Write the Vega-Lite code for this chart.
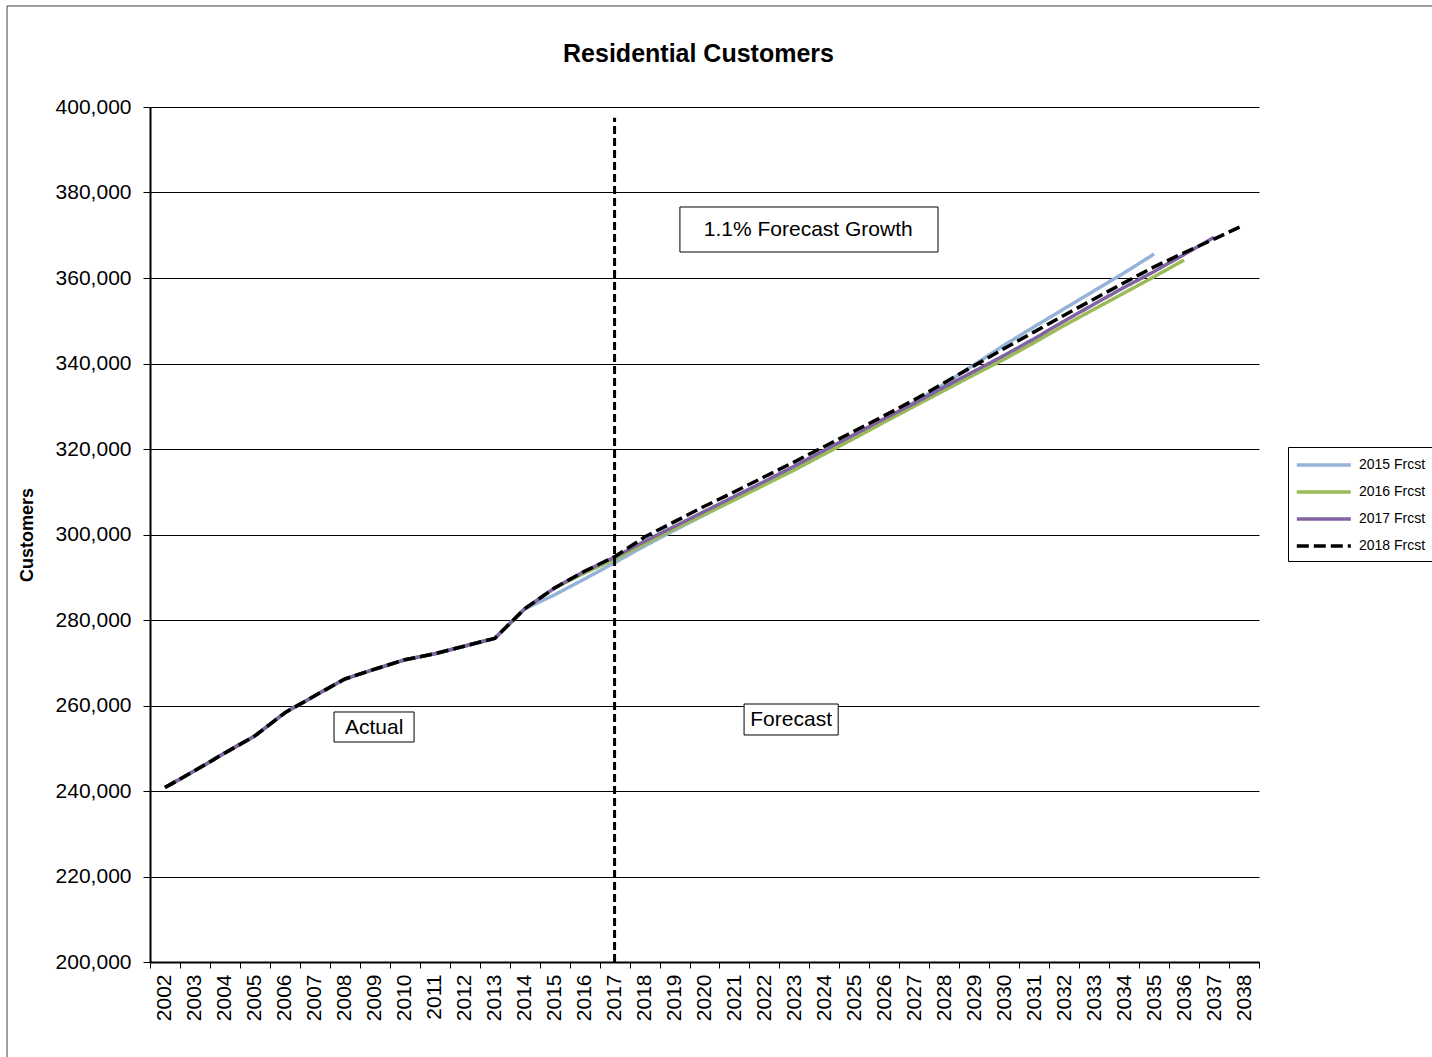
{
  "$schema": "https://vega.github.io/schema/vega-lite/v6.json",
  "width": 1109,
  "height": 855,
  "autosize": {"type": "none"},
  "padding": {"left": 150, "top": 107, "right": 173, "bottom": 95},
  "background": "white",
  "title": {
    "text": "Residential Customers",
    "font": "Liberation Sans",
    "fontSize": 25,
    "fontWeight": "bold",
    "color": "black",
    "anchor": "middle",
    "dx": -6,
    "offset": -62
  },
  "config": {
    "font": "Liberation Sans",
    "view": {"stroke": null},
    "axis": {
      "labelFont": "Liberation Sans",
      "titleFont": "Liberation Sans",
      "labelColor": "black",
      "titleColor": "black",
      "domainColor": "black",
      "tickColor": "black"
    }
  },
  "layer": [
    {
      "data": {
        "values": [
          {"year": 2002, "2015 Frcst": 240800, "2016 Frcst": 240800, "2017 Frcst": 240800, "2018 Frcst": 240800},
          {"year": 2003, "2015 Frcst": 244800, "2016 Frcst": 244800, "2017 Frcst": 244800, "2018 Frcst": 244800},
          {"year": 2004, "2015 Frcst": 248900, "2016 Frcst": 248900, "2017 Frcst": 248900, "2018 Frcst": 248900},
          {"year": 2005, "2015 Frcst": 252900, "2016 Frcst": 252900, "2017 Frcst": 252900, "2018 Frcst": 252900},
          {"year": 2006, "2015 Frcst": 258300, "2016 Frcst": 258300, "2017 Frcst": 258300, "2018 Frcst": 258300},
          {"year": 2007, "2015 Frcst": 262300, "2016 Frcst": 262300, "2017 Frcst": 262300, "2018 Frcst": 262300},
          {"year": 2008, "2015 Frcst": 266200, "2016 Frcst": 266200, "2017 Frcst": 266200, "2018 Frcst": 266200},
          {"year": 2009, "2015 Frcst": 268500, "2016 Frcst": 268500, "2017 Frcst": 268500, "2018 Frcst": 268500},
          {"year": 2010, "2015 Frcst": 270700, "2016 Frcst": 270700, "2017 Frcst": 270700, "2018 Frcst": 270700},
          {"year": 2011, "2015 Frcst": 272100, "2016 Frcst": 272100, "2017 Frcst": 272100, "2018 Frcst": 272100},
          {"year": 2012, "2015 Frcst": 273900, "2016 Frcst": 273900, "2017 Frcst": 273900, "2018 Frcst": 273900},
          {"year": 2013, "2015 Frcst": 275700, "2016 Frcst": 275700, "2017 Frcst": 275700, "2018 Frcst": 275700},
          {"year": 2014, "2015 Frcst": 282600, "2016 Frcst": 282600, "2017 Frcst": 282600, "2018 Frcst": 282600},
          {"year": 2015, "2015 Frcst": 285900, "2016 Frcst": 287500, "2017 Frcst": 287500, "2018 Frcst": 287500},
          {"year": 2016, "2015 Frcst": 289600, "2016 Frcst": 291000, "2017 Frcst": 291400, "2018 Frcst": 291400},
          {"year": 2017, "2015 Frcst": 293400, "2016 Frcst": 294200, "2017 Frcst": 294700, "2018 Frcst": 294800},
          {"year": 2018, "2015 Frcst": 297300, "2016 Frcst": 297800, "2017 Frcst": 298400, "2018 Frcst": 299400},
          {"year": 2019, "2015 Frcst": 301000, "2016 Frcst": 301300, "2017 Frcst": 301900, "2018 Frcst": 303000},
          {"year": 2020, "2015 Frcst": 304600, "2016 Frcst": 304700, "2017 Frcst": 305400, "2018 Frcst": 306600},
          {"year": 2021, "2015 Frcst": 308200, "2016 Frcst": 308100, "2017 Frcst": 308900, "2018 Frcst": 310000},
          {"year": 2022, "2015 Frcst": 311800, "2016 Frcst": 311600, "2017 Frcst": 312400, "2018 Frcst": 313500},
          {"year": 2023, "2015 Frcst": 315400, "2016 Frcst": 315100, "2017 Frcst": 316000, "2018 Frcst": 317000},
          {"year": 2024, "2015 Frcst": 319100, "2016 Frcst": 318800, "2017 Frcst": 319700, "2018 Frcst": 320600},
          {"year": 2025, "2015 Frcst": 322900, "2016 Frcst": 322500, "2017 Frcst": 323400, "2018 Frcst": 324200},
          {"year": 2026, "2015 Frcst": 326800, "2016 Frcst": 326300, "2017 Frcst": 327100, "2018 Frcst": 327800},
          {"year": 2027, "2015 Frcst": 330900, "2016 Frcst": 330000, "2017 Frcst": 330700, "2018 Frcst": 331500},
          {"year": 2028, "2015 Frcst": 335200, "2016 Frcst": 333700, "2017 Frcst": 334500, "2018 Frcst": 335500},
          {"year": 2029, "2015 Frcst": 339700, "2016 Frcst": 337400, "2017 Frcst": 338200, "2018 Frcst": 339500},
          {"year": 2030, "2015 Frcst": 344300, "2016 Frcst": 341000, "2017 Frcst": 341900, "2018 Frcst": 343500},
          {"year": 2031, "2015 Frcst": 348600, "2016 Frcst": 344900, "2017 Frcst": 345800, "2018 Frcst": 347400},
          {"year": 2032, "2015 Frcst": 352800, "2016 Frcst": 348900, "2017 Frcst": 349900, "2018 Frcst": 351300},
          {"year": 2033, "2015 Frcst": 357000, "2016 Frcst": 352700, "2017 Frcst": 353900, "2018 Frcst": 355100},
          {"year": 2034, "2015 Frcst": 361200, "2016 Frcst": 356500, "2017 Frcst": 357800, "2018 Frcst": 358900},
          {"year": 2035, "2015 Frcst": 365600, "2016 Frcst": 360300, "2017 Frcst": 361500, "2018 Frcst": 362600},
          {"year": 2036, "2015 Frcst": null, "2016 Frcst": 364200, "2017 Frcst": 365500, "2018 Frcst": 365900},
          {"year": 2037, "2015 Frcst": null, "2016 Frcst": null, "2017 Frcst": 369500, "2018 Frcst": 369100},
          {"year": 2038, "2015 Frcst": null, "2016 Frcst": null, "2017 Frcst": null, "2018 Frcst": 372400}
        ]
      },
      "transform": [
        {"fold": ["2015 Frcst", "2016 Frcst", "2017 Frcst", "2018 Frcst"], "as": ["series", "customers"]},
        {"filter": {"field": "customers", "valid": true}}
      ],
      "mark": {"type": "line", "strokeJoin": "round", "strokeCap": "butt"},
      "encoding": {
        "x": {
          "field": "year",
          "type": "ordinal",
          "scale": {"type": "band", "paddingInner": 0, "paddingOuter": 0},
          "axis": {
            "title": null,
            "labelAngle": 270,
            "labelFontSize": 21,
            "labelPadding": 6,
            "labelOverlap": false,
            "tickBand": "extent",
            "tickSize": 6,
            "tickWidth": 1,
            "domainWidth": 2,
            "grid": false
          }
        },
        "y": {
          "field": "customers",
          "type": "quantitative",
          "scale": {"domain": [200000, 400000], "nice": false, "zero": false},
          "axis": {
            "title": "Customers",
            "titleFontSize": 18,
            "titleFontWeight": "bold",
            "titlePadding": 19,
            "values": [200000, 220000, 240000, 260000, 280000, 300000, 320000, 340000, 360000, 380000, 400000],
            "format": ",.0f",
            "labelFontSize": 21,
            "labelPadding": 12,
            "labelFlush": false,
            "labelOverlap": false,
            "tickSize": 7,
            "tickWidth": 1,
            "domainWidth": 2,
            "grid": true,
            "gridColor": "black",
            "gridWidth": 1,
            "gridOpacity": 1
          }
        },
        "color": {
          "field": "series",
          "type": "nominal",
          "scale": {
            "domain": ["2015 Frcst", "2016 Frcst", "2017 Frcst", "2018 Frcst"],
            "range": ["#95B3D7", "#9BBB59", "#8064A2", "#000000"]
          },
          "legend": {
            "title": null,
            "orient": "none",
            "legendX": 1138,
            "legendY": 340,
            "symbolType": "M-1.15,0H5.6",
            "symbolSize": 256,
            "symbolStrokeWidth": 3,
            "labelFont": "Liberation Sans",
            "labelFontSize": 14,
            "labelColor": "black",
            "labelOffset": 43,
            "rowPadding": 10,
            "padding": 8,
            "strokeColor": "black",
            "fillColor": "white"
          }
        },
        "strokeDash": {
          "field": "series",
          "type": "nominal",
          "scale": {
            "domain": ["2015 Frcst", "2016 Frcst", "2017 Frcst", "2018 Frcst"],
            "range": [[1, 0], [1, 0], [1, 0], [12, 5]]
          },
          "legend": {
            "title": null,
            "orient": "none",
            "legendX": 1138,
            "legendY": 340,
            "symbolType": "M-1.15,0H5.6",
            "symbolSize": 256,
            "symbolStrokeWidth": 3,
            "labelFont": "Liberation Sans",
            "labelFontSize": 14,
            "labelColor": "black",
            "labelOffset": 43,
            "rowPadding": 10,
            "padding": 8,
            "strokeColor": "black",
            "fillColor": "white"
          }
        },
        "strokeWidth": {
          "field": "series",
          "type": "ordinal",
          "scale": {
            "domain": ["2015 Frcst", "2016 Frcst", "2017 Frcst", "2018 Frcst"],
            "range": [3.5, 3.5, 3.5, 5]
          },
          "legend": null
        }
      }
    },
    {
      "layer": [
        {
          "data": {"values": [{"year": 2017, "low": 200000, "high": 397500}]},
          "mark": {"type": "rule", "color": "black", "strokeWidth": 3, "strokeDash": [8, 4]},
          "encoding": {
            "x": {"field": "year", "type": "quantitative", "scale": {"domain": [2001.5, 2038.5], "nice": false, "zero": false}, "axis": null},
            "y": {"field": "low", "type": "quantitative", "scale": {"domain": [200000, 400000], "nice": false, "zero": false}},
            "y2": {"field": "high"}
          }
        },
        {
          "data": {
            "values": [
              {"label": "1.1% Forecast Growth", "left": 2019.18, "right": 2027.79, "bottom": 366080, "top": 376610, "cx": 2023.46, "cy": 371300},
              {"label": "Actual", "left": 2007.64, "right": 2010.31, "bottom": 251460, "top": 258480, "cx": 2008.98, "cy": 254700},
              {"label": "Forecast", "left": 2021.32, "right": 2024.46, "bottom": 253100, "top": 260350, "cx": 2022.89, "cy": 256500}
            ]
          },
          "layer": [
            {
              "mark": {"type": "rect", "fill": "white", "stroke": "black", "strokeWidth": 1},
              "encoding": {
                "x": {"field": "left", "type": "quantitative", "scale": {"domain": [2001.5, 2038.5], "nice": false, "zero": false}, "axis": null},
                "x2": {"field": "right"},
                "y": {"field": "bottom", "type": "quantitative", "scale": {"domain": [200000, 400000], "nice": false, "zero": false}},
                "y2": {"field": "top"}
              }
            },
            {
              "mark": {"type": "text", "font": "Liberation Sans", "fontSize": 21, "color": "black", "align": "center", "baseline": "middle"},
              "encoding": {
                "x": {"field": "cx", "type": "quantitative", "scale": {"domain": [2001.5, 2038.5], "nice": false, "zero": false}, "axis": null},
                "y": {"field": "cy", "type": "quantitative", "scale": {"domain": [200000, 400000], "nice": false, "zero": false}},
                "text": {"field": "label"}
              }
            }
          ]
        },
        {
          "data": {"values": [{"frame": "chart border"}]},
          "mark": {"type": "rect", "filled": false, "stroke": "#404040", "strokeWidth": 1, "clip": false},
          "encoding": {
            "x": {"datum": 1996.73, "type": "quantitative", "scale": {"domain": [2001.5, 2038.5], "nice": false, "zero": false}, "axis": null},
            "x2": {"datum": 2046},
            "y": {"datum": 423626, "type": "quantitative", "scale": {"domain": [200000, 400000], "nice": false, "zero": false}},
            "y2": {"datum": 170000}
          }
        }
      ]
    }
  ],
  "resolve": {"scale": {"x": "independent"}}
}
